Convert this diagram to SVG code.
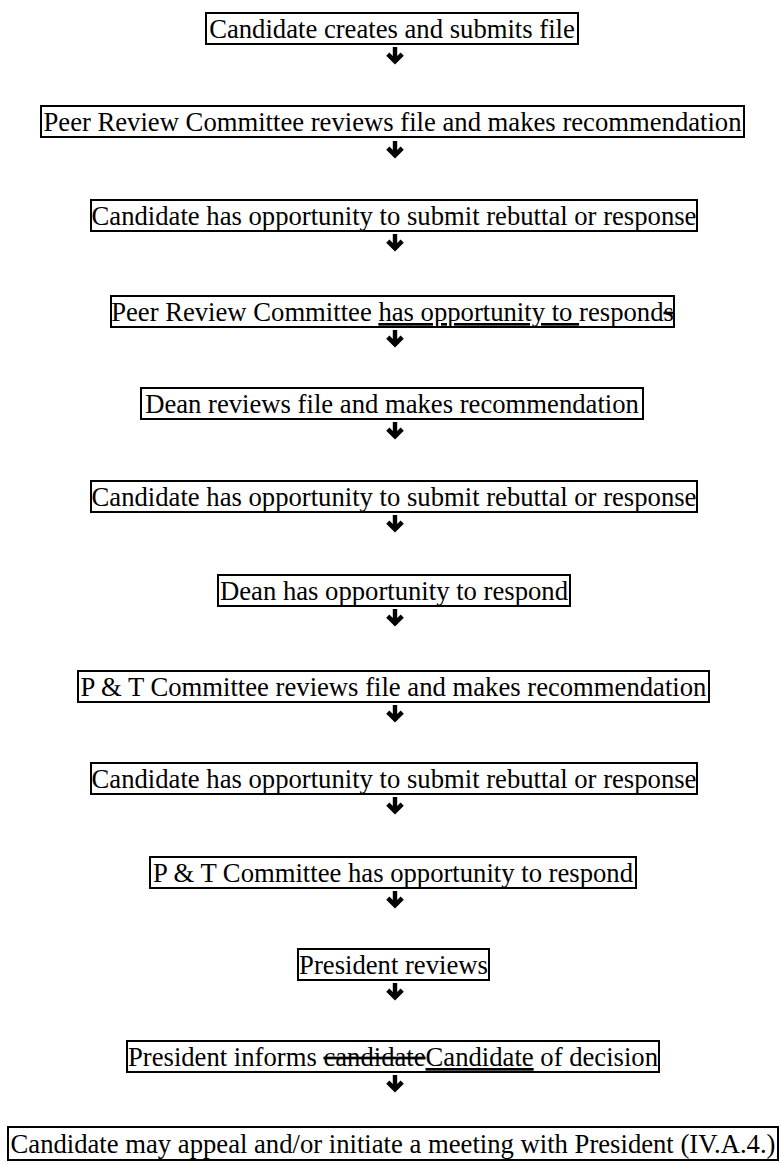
<svg xmlns="http://www.w3.org/2000/svg" width="780" height="1165" viewBox="0 0 780 1165">
<style>
.box{fill:#fff;stroke:#000;stroke-width:2}
.t{font-family:"Liberation Serif","Times New Roman",serif;font-size:26.67px;fill:#000;text-anchor:middle}
.u{text-decoration:underline}
.s{text-decoration:line-through}
.arr{fill:#000}
</style>
<defs>
<path id="ah" d="M-2.2,0 H2.2 V9 L5.6,5.6 L8.8,8.8 L0,17.5 L-8.8,8.8 L-5.6,5.6 L-2.2,9 Z"/>
</defs>
<rect width="780" height="1165" fill="#fff"/>
<g id="connectors" class="arr">
<use href="#ah" x="395" y="47"/>
<use href="#ah" x="395" y="141"/>
<use href="#ah" x="395" y="234"/>
<use href="#ah" x="395" y="330"/>
<use href="#ah" x="395" y="422"/>
<use href="#ah" x="395" y="515"/>
<use href="#ah" x="395" y="609"/>
<use href="#ah" x="395" y="705"/>
<use href="#ah" x="395" y="797"/>
<use href="#ah" x="395" y="891"/>
<use href="#ah" x="395" y="983"/>
<use href="#ah" x="395" y="1075"/>
</g>
<g id="n1"><rect class="box" x="206" y="13" width="372" height="31"/><text class="t" x="392" y="38">Candidate creates and submits file</text></g>
<g id="n2"><rect class="box" x="41" y="106" width="703" height="31"/><text class="t" x="392.5" y="131">Peer Review Committee reviews file and makes recommendation</text></g>
<g id="n3"><rect class="box" x="91" y="200" width="606" height="31"/><text class="t" x="394" y="225">Candidate has opportunity to submit rebuttal or response</text></g>
<g id="n4"><rect class="box" x="111" y="296" width="563" height="31"/><text class="t" x="392.5" y="321">Peer Review Committee <tspan class="u">has opportunity to </tspan>respond<tspan class="s">s</tspan></text></g>
<g id="n5"><rect class="box" x="141" y="388" width="502" height="31"/><text class="t" x="392" y="413">Dean reviews file and makes recommendation</text></g>
<g id="n6"><rect class="box" x="91" y="481" width="606" height="31"/><text class="t" x="394" y="506">Candidate has opportunity to submit rebuttal or response</text></g>
<g id="n7"><rect class="box" x="218" y="575" width="352" height="31"/><text class="t" x="394" y="600">Dean has opportunity to respond</text></g>
<g id="n8"><rect class="box" x="78" y="671" width="631" height="31"/><text class="t" x="393.5" y="696">P &amp; T Committee reviews file and makes recommendation</text></g>
<g id="n9"><rect class="box" x="91" y="763" width="606" height="31"/><text class="t" x="394" y="788">Candidate has opportunity to submit rebuttal or response</text></g>
<g id="n10"><rect class="box" x="150" y="857" width="486" height="31"/><text class="t" x="393" y="882">P &amp; T Committee has opportunity to respond</text></g>
<g id="n11"><rect class="box" x="298" y="949" width="191" height="31"/><text class="t" x="393.5" y="974">President reviews</text></g>
<g id="n12"><rect class="box" x="127" y="1041" width="532" height="31"/><text class="t" x="393" y="1066">President informs <tspan class="s">candidate</tspan><tspan class="u">Candidate</tspan> of decision</text></g>
<g id="n13"><rect class="box" x="8" y="1127" width="770" height="33"/><text class="t" x="393" y="1153">Candidate may appeal and/or initiate a meeting with President (IV.A.4.)</text></g>
</svg>
